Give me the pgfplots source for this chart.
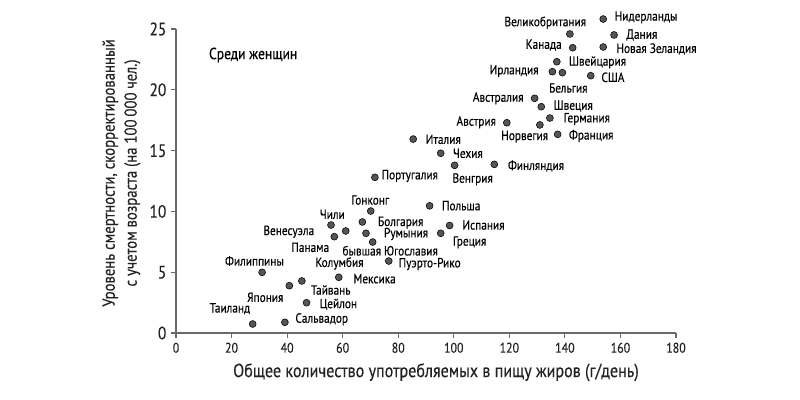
\documentclass[border=0pt]{standalone}
\usepackage{fontspec}
\setmainfont{PT Sans}[FakeStretch=0.85, FakeBold=0.35]
\usepackage{pgfplots}
\pgfplotsset{compat=1.18}
\definecolor{dotc}{HTML}{555555}
\definecolor{txt}{HTML}{222222}
\definecolor{axc}{HTML}{6A6A6A}
\newcommand\lab[4]{\node[anchor=#1] at (axis cs:{(#2-176)/2.77778},{(333-#3)/12.16}) {#4};}
\begin{document}
\begin{tikzpicture}
\path[use as bounding box] (-132pt,-50.25pt) rectangle (468pt,249.75pt);
\begin{axis}[
  at={(0,0)}, anchor=south west,
  scale only axis, width=375pt, height=228pt,
  xmin=0, xmax=180, ymin=0, ymax=25,
  axis x line=bottom, axis y line=left,
  axis line style={axc, line width=0.8pt, -},
  xtick={0,20,...,180}, ytick={0,5,...,25},
  tick align=outside, major tick length=3.75pt,
  tick style={axc, line width=0.8pt},
  /pgf/number format/assume math mode=true,
  xticklabel style={font=\fontsize{10.5}{10.5}\selectfont, text=txt},
  yticklabel style={font=\fontsize{13.5}{13.5}\selectfont, text=txt},
  xlabel={Общее количество употребляемых в пищу жиров (г/день)},
  xlabel style={font=\fontsize{14.2}{14.2}\selectfont, text=txt, yshift=-1pt, xshift=7.5pt},
  ylabel={Уровень смертности, скорректированный\\с учетом возраста (на 100\,000 чел.)},
  ylabel style={font=\fontsize{13}{16.5}\selectfont, text=txt, align=center, xshift=6pt},
  clip=false,
  every node/.append style={text=txt, inner sep=0pt, font=\fontsize{9.8}{9.8}\selectfont, text height=0.7em, text depth=0pt},
]
\addplot[only marks, mark=*, mark size=2.6pt, mark options={fill=dotc, draw=none}] table {
x y
153.8 25.82
141.8 24.59
157.7 24.51
142.8 23.46
153.8 23.52
137.1 22.31
135.5 21.49
139.1 21.41
149.3 21.16
129.1 19.30
131.5 18.61
134.6 17.68
119.1 17.29
131.0 17.11
137.4 16.34
85.4 15.95
95.3 14.78
100.3 13.79
114.6 13.87
71.6 12.80
91.3 10.46
98.5 8.84
95.3 8.20
70.1 10.03
55.8 8.88
67.1 9.13
61.1 8.39
57.0 7.92
68.4 8.20
70.8 7.48
76.6 5.92
31.0 4.99
58.6 4.58
40.8 3.89
45.3 4.28
47.0 2.49
27.6 0.74
39.2 0.88
};
\lab{west}{610}{17.3}{Нидерланды}
\lab{center}{545.3}{22.7}{Великобритания}
\lab{west}{621.7}{35}{Дания}
\lab{center}{543.7}{45}{Канада}
\lab{west}{611.7}{49}{Новая Зеландия}
\lab{west}{564.3}{62.3}{Швейцария}
\lab{east}{543.3}{71}{Ирландия}
\lab{west}{596.7}{77.3}{США}
\lab{center}{568.3}{88}{Бельгия}
\lab{east}{528.3}{98.3}{Австралия}
\lab{west}{549}{106}{Швеция}
\lab{west}{559}{119}{Германия}
\lab{east}{500.7}{122.3}{Австрия}
\lab{center}{524.7}{136.7}{Норвегия}
\lab{west}{564.3}{136}{Франция}
\lab{west}{421}{139.3}{Италия}
\lab{west}{448.3}{153.3}{Чехия}
\lab{west}{503.3}{166}{Финляндия}
\lab{center}{472.7}{179.3}{Венгрия}
\lab{east}{442.7}{176}{Португалия}
\lab{west}{437.3}{205.7}{Польша}
\lab{west}{457.7}{225}{Испания}
\lab{center}{370.3}{200}{Гонконг}
\lab{center}{332.3}{214.3}{Чили}
\lab{west}{373.3}{222.7}{Болгария}
\lab{center}{288.8}{231.7}{Венесуэла}
\lab{west}{379.3}{234}{Румыния}
\lab{center}{310.3}{247.3}{Панама}
\lab{center}{390.2}{250.7}{бывшая Югославия}
\lab{west}{448.3}{242.3}{Греция}
\lab{center}{254.5}{261}{Филиппины}
\lab{center}{339.5}{263.5}{Колумбия}
\lab{west}{394}{264}{Пуэрто-Рико}
\lab{west}{348.7}{278.7}{Мексика}
\lab{center}{330.8}{290}{Тайвань}
\lab{center}{265.3}{297.3}{Япония}
\lab{west}{315}{304.3}{Цейлон}
\lab{center}{230}{308.7}{Таиланд}
\lab{west}{290.7}{319.3}{Сальвадор}
\node[anchor=west, font=\fontsize{12}{12}\selectfont] at (axis cs:{(204.3-176)/2.77778},{(333-55)/12.16}) {Среди женщин};
\end{axis}
\end{tikzpicture}
\end{document}
